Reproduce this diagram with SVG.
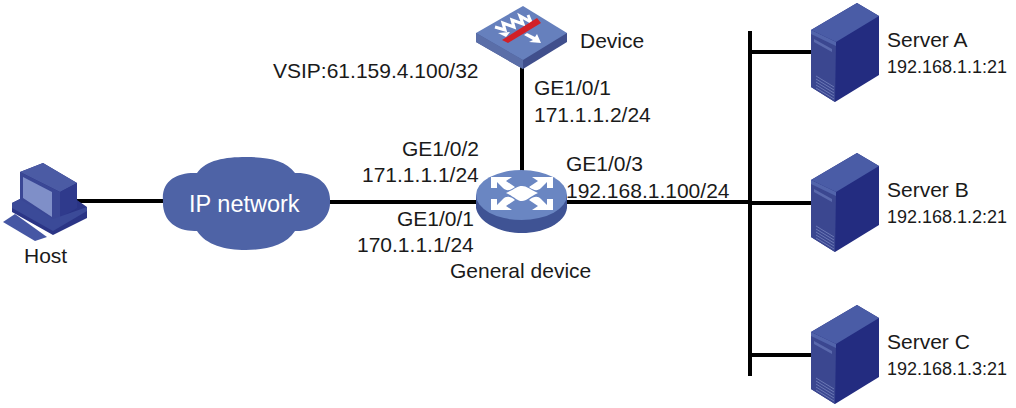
<svg xmlns="http://www.w3.org/2000/svg" width="1016" height="408" viewBox="0 0 1016 408">
<style>
text{font-family:"Liberation Sans",Arial,sans-serif;font-size:21px;fill:#1a1a1a}
.s{font-size:18px}
.c line{stroke:#000;stroke-width:4}
</style>
<defs>
<g id="srv">
<path d="M0 12 L46 -15 L68 -2 L68 57 L24 84 L0 69Z" fill="#232c80"/>
<path d="M0 12 L46 -15 L68 -2 L25 24Z" fill="#4a5ca6"/>
<path d="M0 12 L25 24 L24 84 L0 69Z" fill="#3b4790"/>
<path d="M0 12 L25 24 L25 28 L0 16Z" fill="#5264ab"/>
<path d="M3 21 L21 31 L21 34 L3 24Z" fill="#5a69ad"/>
<path d="M5 58 L23 69 M5 61 L23 72 M5 64 L23 75 M5 67 L23 78 M5 70 L23 81" stroke="#6b78b5" stroke-width="1"/>
</g>
</defs>
<rect width="1016" height="408" fill="#fff"/>
<g class="c" id="connectors">
<line x1="76" y1="201" x2="170" y2="201"/>
<line x1="325" y1="202" x2="480" y2="202"/>
<line x1="522" y1="60" x2="522" y2="172"/>
<line x1="565" y1="202" x2="750" y2="202"/>
<line x1="750" y1="31" x2="750" y2="376"/>
<line x1="750" y1="52" x2="812" y2="52"/>
<line x1="750" y1="203" x2="812" y2="203"/>
<line x1="750" y1="355" x2="812" y2="355"/>
</g>
<g id="host">
<path d="M12 203 L20 199 L20 172 L43 163 L77 183 L77 200 L87 207 L87 218 L53 235 L12 212Z" fill="#2b3586"/>
<path d="M20 172 L43 163 L77 183 L60 192Z" fill="#4b5ba4"/>
<path d="M60 192 L77 183 L77 208 L60 218Z" fill="#2f3a8c"/>
<path d="M20 172 L60 192 L60 221 L53 221 L20 202Z" fill="#3a4795"/>
<path d="M23 177 L52 192 L52 217 L23 198Z" fill="#7f8fc8"/>
<path d="M12 203 L20 199 L53 219 L87 207 L87 211 L53 231 L12 208Z" fill="#3b4a98"/>
<path d="M3 222 L15 214 L47 237 L35 241Z" fill="#4657a4"/>
<text x="24" y="263">Host</text>
</g>
<g id="cloud">
<path d="M163 201 C161 180 178 172 197 173 C206 160 225 157 246 157 C267 157 286 160 295 173 C313 172 331 182 330 201 C331 220 313 232 295 231 C286 245 267 250 246 250 C225 250 206 245 197 231 C178 232 162 222 163 201Z" fill="#4e63a6"/>
<text x="189" y="212" style="font-size:23.5px;fill:#fff">IP network</text>
</g>
<g id="router">
<path d="M476 195 V208 C479 223 500 233 522 233 C544 233 565 223 567 208 V195Z" fill="#3f5394"/>
<ellipse cx="521.500" cy="195" rx="45.500" ry="25" fill="#6a86c2"/>
<path d="M491 177 H512 L506 181 L515 187 C510 191 506 191 503 188 L497 182 V188 H491Z M553 177 H532 L538 181 L529 187 C534 191 538 191 541 188 L547 182 V188 H553Z M491 210 H512 L506 206 L515 200 C510 196 506 196 503 199 L497 205 V199 H491Z M553 210 H532 L538 206 L529 200 C534 196 538 196 541 199 L547 205 V199 H553Z" fill="#fff"/>
<path d="M506 193 C515 189 517 186 522 186 C527 186 529 189 538 193 C529 197 527 201 522 201 C517 201 515 197 506 193Z" fill="#fff"/>
<text x="450" y="278">General device</text>
</g>
<g id="device">
<path d="M476 33 V42 L523 69 L567 42 V33Z" fill="#404f8c"/>
<path d="M476 33 V42 L523 69 V60Z" fill="#5a6ea8"/>
<path d="M476 33 L523 6 L567 33 L523 60Z" fill="#6680bd"/>
<path d="M495 27 L505 30 L503 23 L514 27 L512 20 L523 24 L520 16 L531 22 L528 15" fill="none" stroke="#fff" stroke-width="3"/>
<path d="M524 35 L533 40 L529 42 L541 43 L537 34 L535 37 L527 33Z" fill="#fff"/>
<path d="M498 33 L510 32 L506 37Z" fill="#fff"/>
<path d="M502 40 L537 18 L541 23 L508 43Z" fill="#d22027"/>
<text x="580" y="48">Device</text>
</g>
<g id="labels">
<text x="273" y="78">VSIP:61.159.4.100/32</text>
<text x="534" y="95">GE1/0/1</text>
<text x="534" y="122">171.1.1.2/24</text>
<text x="402" y="156">GE1/0/2</text>
<text x="362" y="182">171.1.1.1/24</text>
<text x="566" y="171">GE1/0/3</text>
<text x="566" y="198">192.168.1.100/24</text>
<text x="397" y="226">GE1/0/1</text>
<text x="357" y="252">170.1.1.1/24</text>
</g>
<g id="server-a"><use href="#srv" x="811" y="18"/><text x="887" y="47">Server A</text><text class="s" x="887" y="73">192.168.1.1:21</text></g>
<g id="server-b"><use href="#srv" x="811" y="168"/><text x="887" y="197">Server B</text><text class="s" x="887" y="223">192.168.1.2:21</text></g>
<g id="server-c"><use href="#srv" x="811" y="320"/><text x="887" y="349">Server C</text><text class="s" x="887" y="375">192.168.1.3:21</text></g>
</svg>
